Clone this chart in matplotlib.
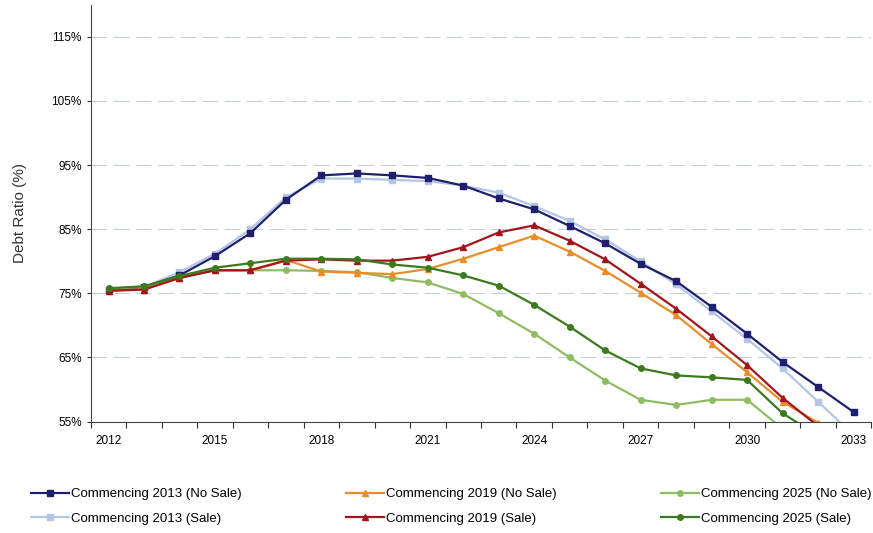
import numpy as np
import matplotlib.pyplot as plt

# years on the category axis
years = list(range(2012, 2034))

# debt ratio (%)
c2013_no_sale = [75.6, 76.0, 77.8, 80.8, 84.4, 89.6, 93.4, 93.7, 93.4, 93.0, 91.8,
                 89.8, 88.1, 85.5, 82.8, 79.6, 76.9, 72.9, 68.7, 64.3, 60.4, 56.5]
c2013_sale = [75.6, 76.0, 78.3, 81.2, 85.0, 90.0, 92.9, 92.9, 92.7, 92.5, 91.8,
              90.7, 88.6, 86.3, 83.4, 80.0, 76.4, 72.2, 67.9, 63.3, 58.1, 52.9]
c2019_no_sale = [75.4, 75.6, 77.4, 78.6, 78.6, 80.2, 78.4, 78.2, 78.0, 78.8, 80.4,
                 82.2, 84.0, 81.5, 78.5, 75.1, 71.6, 67.1, 62.7, 58.1, 54.8, 50.0]
c2019_sale = [75.4, 75.6, 77.4, 78.6, 78.6, 80.1, 80.3, 80.1, 80.1, 80.7, 82.2,
              84.5, 85.6, 83.2, 80.3, 76.5, 72.6, 68.3, 63.8, 58.7, 54.3, 49.0]
c2025_no_sale = [75.7, 76.0, 77.6, 78.6, 78.6, 78.6, 78.5, 78.3, 77.4, 76.7, 74.9,
                 71.9, 68.7, 65.0, 61.4, 58.4, 57.6, 58.4, 58.4, 53.9, 49.5, 45.0]
c2025_sale = [75.8, 76.1, 77.7, 79.0, 79.7, 80.4, 80.4, 80.3, 79.5, 79.0, 77.8,
              76.2, 73.2, 69.8, 66.1, 63.3, 62.2, 61.9, 61.5, 56.3, 52.8, 49.0]

y_ticks = [55, 65, 75, 85, 95, 105, 115]
x_labels = ['2012', '2015', '2018', '2021', '2024', '2027', '2030', '2033']

plt.rcParams['font.family'] = ['Liberation Sans', 'DejaVu Sans']

fig = plt.figure(figsize=(8.73, 5.33), dpi=100)
ax = fig.add_axes([0.104, 0.209, 0.894, 0.782])

x = np.arange(len(years))
series = [
    (c2013_no_sale, 'Commencing 2013 (No Sale)', '#1f1f6e', 's', 4),
    (c2013_sale, 'Commencing 2013 (Sale)', '#b3c6e3', 's', 4),
    (c2019_no_sale, 'Commencing 2019 (No Sale)', '#e98d2b', '^', 5),
    (c2019_sale, 'Commencing 2019 (Sale)', '#a3151d', '^', 5),
    (c2025_no_sale, 'Commencing 2025 (No Sale)', '#8fbc62', 'o', 4),
    (c2025_sale, 'Commencing 2025 (Sale)', '#3c7a1e', 'o', 4),
]
# drawing order so overlapping lines stack like the original
for vals, lab, col, mk, ms in [series[1], series[0], series[4], series[2], series[3], series[5]]:
    ax.plot(x, vals, color=col, marker=mk, markersize=ms, linewidth=1.6, label=lab)

ax.set_xlim(-0.5, len(years) - 0.5)
ax.set_ylim(55, 120)

# ticks at category boundaries, labels every third year
ax.set_xticks(np.arange(-0.5, len(years), 1.0))
ax.set_xticklabels([])
ax.set_xticks(np.arange(0, len(years), 3), minor=True)
ax.set_xticklabels(x_labels, minor=True, fontsize=8.5)
ax.tick_params(axis='x', which='major', length=4, direction='out', color='#333333')
ax.tick_params(axis='x', which='minor', length=0, pad=10)

ax.set_yticks(y_ticks)
ax.set_yticklabels([f'{v}%' for v in y_ticks], fontsize=8.5)
ax.tick_params(axis='y', length=3, direction='out', color='#333333')

ax.grid(True, axis='y', linestyle=(0, (14, 6)), color='#c5cfdc', linewidth=0.8)
for s in ['top', 'right']:
    ax.spines[s].set_visible(False)
ax.spines['left'].set_color('#444444')
ax.spines['bottom'].set_color('#444444')

ax.set_ylabel('Debt Ratio (%)', fontsize=11, color='#333333', labelpad=18)

handles, labels = ax.get_legend_handles_labels()
order = [labels.index(s[1]) for s in series]
fig.legend([handles[i] for i in order], [labels[i] for i in order],
           loc='lower left', bbox_to_anchor=(0.0355, 0.015), ncol=3, frameon=False,
           fontsize=9.5, handlelength=2.9, columnspacing=7.95, labelspacing=0.95,
           handletextpad=0.1, borderpad=0, borderaxespad=0)

plt.savefig('out.png', dpi=100)
